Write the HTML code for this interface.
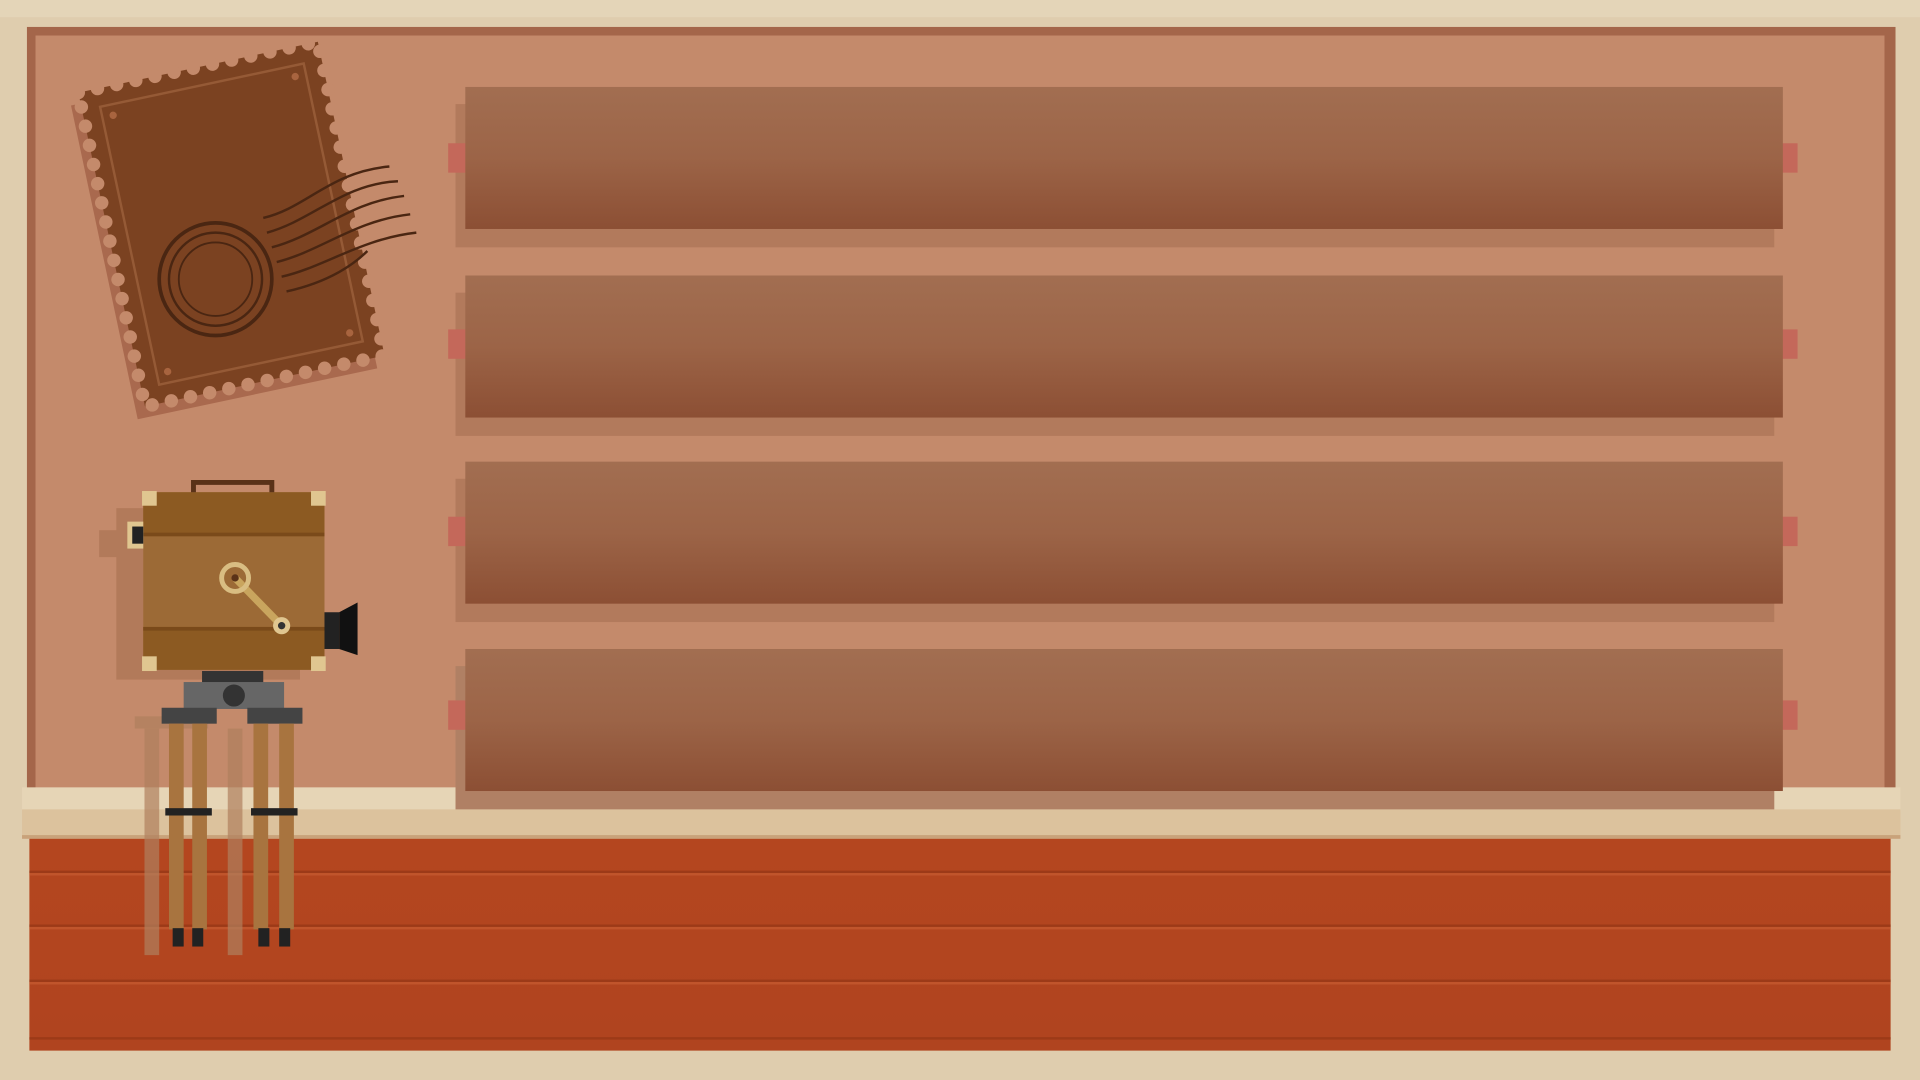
<!DOCTYPE html>
<html><head><meta charset="utf-8"><style>
html,body{margin:0;padding:0;width:1920px;height:1080px;overflow:hidden;background:#dfcdae;font-family:"Liberation Sans",sans-serif}
svg{display:block}
</style></head><body>
<svg width="1920" height="1080" viewBox="0 0 1568 882" preserveAspectRatio="none" xmlns="http://www.w3.org/2000/svg">
<defs>
<linearGradient id="bar" x1="0" y1="0" x2="0" y2="1"><stop offset="0" stop-color="#a26e51"/><stop offset="0.5" stop-color="#9c6447"/><stop offset="1" stop-color="#8c4f34"/></linearGradient>
<linearGradient id="floor" x1="0" y1="0" x2="0" y2="1"><stop offset="0" stop-color="#b4461f"/><stop offset="1" stop-color="#b0441f"/></linearGradient>
</defs>
<rect x="0" y="0" width="1568" height="882" fill="#dfcdae"/>
<rect x="0" y="0" width="1568" height="14" fill="#e4d5b8"/>
<rect x="22" y="22" width="1526" height="630" fill="#a4664a"/>
<rect x="29" y="29" width="1510" height="620" fill="#c48a6b"/>
<rect x="18" y="643" width="1534" height="20" fill="#e6d5b6"/>
<rect x="18" y="661" width="1534" height="24" fill="#dcc29d"/>
<rect x="18" y="682" width="1534" height="3" fill="#c9a27a"/>
<g>
<rect x="24" y="685" width="1520" height="173" fill="url(#floor)"/>
<rect x="24" y="711" width="1520" height="2" fill="#9c3a18"/>
<rect x="24" y="755" width="1520" height="2" fill="#9c3a18"/>
<rect x="24" y="800" width="1520" height="2" fill="#9c3a18"/>
<rect x="24" y="847" width="1520" height="2" fill="#9c3a18"/>
<rect x="24" y="713" width="1520" height="2" fill="#c0552c"/>
<rect x="24" y="757" width="1520" height="2" fill="#c0552c"/>
<rect x="24" y="802" width="1520" height="2" fill="#c0552c"/>
</g>
<g>
<rect x="372" y="85" width="1077" height="117" fill="#b27a5c"/>
<rect x="366" y="117" width="16" height="24" fill="#c4685a"/><rect x="1454" y="117" width="14" height="24" fill="#c4685a"/>
<rect x="380" y="71" width="1076" height="116" fill="url(#bar)"/></g>
<g>
<rect x="372" y="239" width="1077" height="117" fill="#b27a5c"/>
<rect x="366" y="269" width="16" height="24" fill="#c4685a"/><rect x="1454" y="269" width="14" height="24" fill="#c4685a"/>
<rect x="380" y="225" width="1076" height="116" fill="url(#bar)"/></g>
<g>
<rect x="372" y="391" width="1077" height="117" fill="#b27a5c"/>
<rect x="366" y="422" width="16" height="24" fill="#c4685a"/><rect x="1454" y="422" width="14" height="24" fill="#c4685a"/>
<rect x="380" y="377" width="1076" height="116" fill="url(#bar)"/></g>
<g>
<rect x="372" y="544" width="1077" height="117" fill="#b08064"/>
<rect x="366" y="572" width="16" height="24" fill="#c4685a"/><rect x="1454" y="572" width="14" height="24" fill="#c4685a"/>
<rect x="380" y="530" width="1076" height="116" fill="url(#bar)"/></g>
<g transform="translate(189,183) rotate(-12)">
<rect x="-100" y="-130" width="200" height="262" fill="#a9694e" transform="translate(-8,8)"/>
<rect x="-100" y="-131" width="200" height="262" fill="#7b4221"/>
<rect x="-100" y="-131" width="200" height="262" fill="none" stroke="#c48a6b" stroke-width="11" stroke-dasharray="0 16" stroke-linecap="round" transform="translate(0,0)"/>
<rect x="-85" y="-116" width="170" height="232" fill="none" stroke="#955a36" stroke-width="2"/>
<circle cx="-76" cy="-107" r="3" fill="#a8643f"/><circle cx="76" cy="-107" r="3" fill="#a8643f"/>
<circle cx="-76" cy="107" r="3" fill="#a8643f"/><circle cx="76" cy="107" r="3" fill="#a8643f"/>
</g>
<g fill="none" stroke="#4a2612" stroke-width="2">
<circle cx="176" cy="228" r="46" stroke-width="3"/><circle cx="176" cy="228" r="38"/><circle cx="176" cy="228" r="30" stroke-width="1.5"/>
<path d="M215 178 C250 170 270 140 318 136"/><path d="M218 190 C255 180 280 150 325 148"/><path d="M222 202 C260 192 285 165 330 160"/><path d="M226 214 C262 205 290 180 335 175"/><path d="M230 226 C265 218 295 195 340 190"/><path d="M234 238 C270 230 290 215 300 205"/>
</g>
<g>
<rect x="95" y="415" width="150" height="140" fill="#b27a5a"/>
<rect x="81" y="433" width="20" height="22" fill="#b27a5a"/>
<rect x="117" y="402" width="148" height="145" fill="#9c6a36"/>
<rect x="117" y="402" width="148" height="35" fill="#8c5a22"/>
<rect x="117" y="512" width="148" height="35" fill="#8c5a22"/>
<rect x="117" y="435" width="148" height="3" fill="#7a4a1a"/><rect x="117" y="512" width="148" height="3" fill="#7a4a1a"/>
<path d="M158 402 v-8 h64 v8" fill="none" stroke="#5a3218" stroke-width="4"/>
<rect x="116" y="401" width="12" height="12" fill="#e0c690"/><rect x="254" y="401" width="12" height="12" fill="#e0c690"/>
<rect x="116" y="536" width="12" height="12" fill="#e0c690"/><rect x="254" y="536" width="12" height="12" fill="#e0c690"/>
<rect x="104" y="426" width="13" height="22" fill="#e0c690"/><rect x="108" y="430" width="9" height="14" fill="#222"/>
<rect x="265" y="500" width="12" height="30" fill="#222"/><path d="M277 500 L292 492 V535 L277 530 Z" fill="#111"/>
<line x1="192" y1="472" x2="230" y2="511" stroke="#c9a55e" stroke-width="6"/>
<circle cx="192" cy="472" r="11" fill="none" stroke="#d9bd82" stroke-width="4"/><circle cx="192" cy="472" r="3" fill="#5a3218"/>
<circle cx="230" cy="511" r="7" fill="#e0c690"/><circle cx="230" cy="511" r="3" fill="#333"/>
</g>
<g>
<g fill="#b0805e" opacity="0.7"><rect x="118" y="595" width="12" height="185"/><rect x="186" y="595" width="12" height="185"/><rect x="110" y="585" width="60" height="10"/></g>
<rect x="165" y="548" width="50" height="10" fill="#333"/>
<rect x="150" y="557" width="82" height="22" fill="#666"/>
<circle cx="191" cy="568" r="9" fill="#333"/>
<rect x="132" y="578" width="45" height="13" fill="#444"/><rect x="202" y="578" width="45" height="13" fill="#444"/>
<g fill="#a8743f"><rect x="138" y="591" width="12" height="168"/><rect x="157" y="591" width="12" height="168"/><rect x="207" y="591" width="12" height="168"/><rect x="228" y="591" width="12" height="168"/></g>
<g fill="#222"><rect x="135" y="660" width="38" height="6"/><rect x="205" y="660" width="38" height="6"/>
<rect x="141" y="758" width="9" height="15"/><rect x="157" y="758" width="9" height="15"/><rect x="211" y="758" width="9" height="15"/><rect x="228" y="758" width="9" height="15"/></g>
</g>
</svg>
</body></html>
